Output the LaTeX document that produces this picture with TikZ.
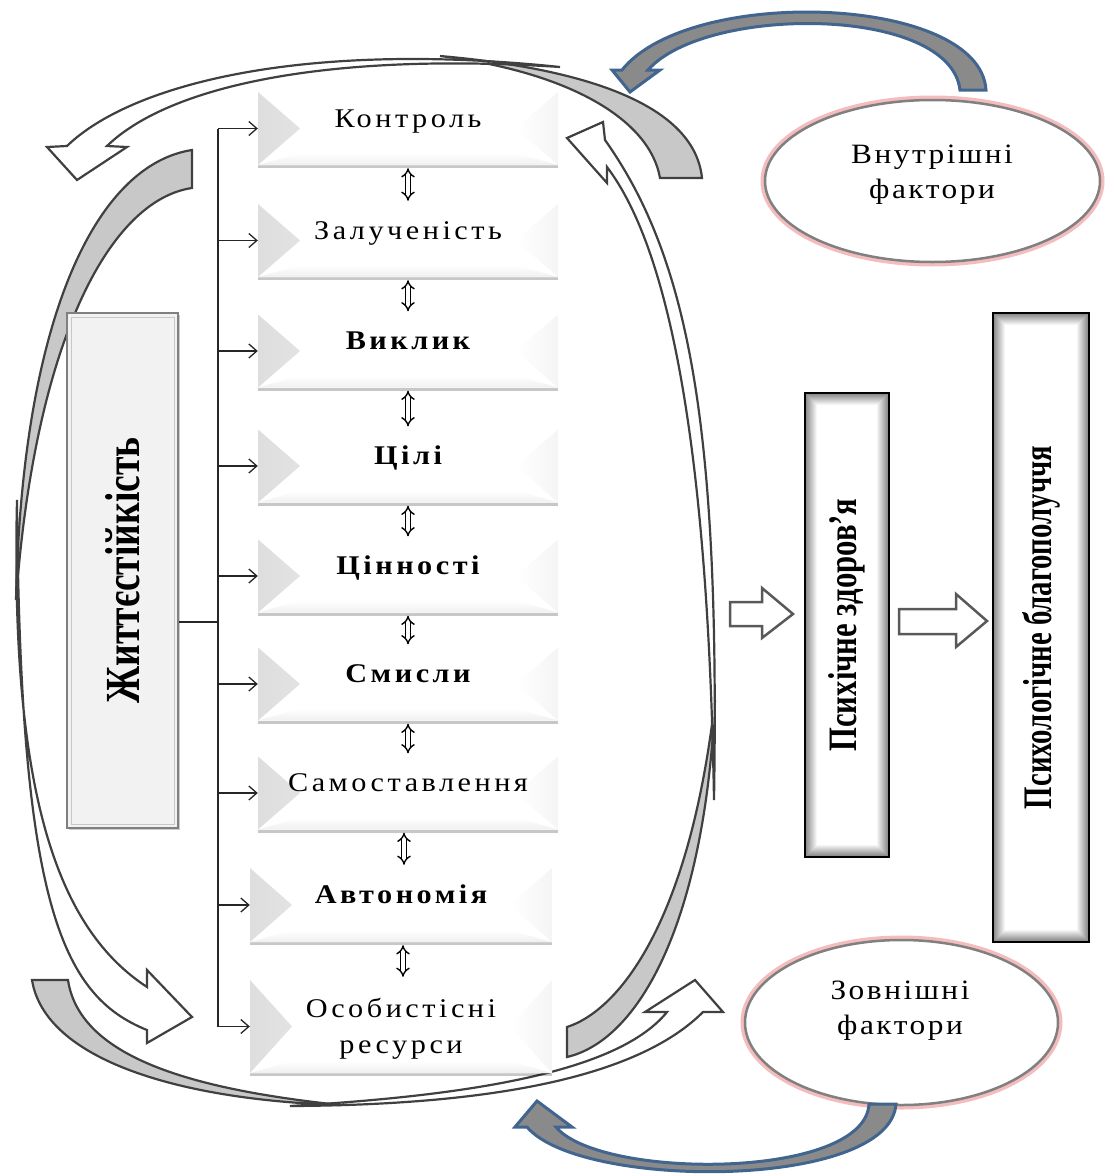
\documentclass[tikz,border=0pt]{standalone}
\usepackage{fontspec}
\setmainfont{Liberation Serif}
\newfontfamily\spc[LetterSpace=13, FakeStretch=1.12]{Liberation Serif}
\newfontfamily\spce[LetterSpace=9, FakeStretch=1.12]{Liberation Serif}
\usetikzlibrary{arrows.meta,shapes.geometric,shadows,calc}
\definecolor{dk}{HTML}{404040}
\definecolor{bandgray}{HTML}{C8C8C8}
\definecolor{bluel}{HTML}{41658F}
\definecolor{bluef}{HTML}{8A8A8A}
\definecolor{pinkglow}{HTML}{F4BCBC}
\tikzset{
  band/.style={draw=dk, line width=2.2pt, line join=miter},
  bandback/.style={band, fill=bandgray},
  bandfront/.style={band, fill=white},
  bluearr/.style={draw=bluel, line width=3pt, fill=bluef, line join=miter},
  cbox/.style={minimum width=300pt, minimum height=73pt, inner sep=0pt, fill=white,
    font=\spc\fontsize{27}{30}\selectfont, text height=16pt, text depth=19pt,
    drop shadow={shadow xshift=0pt, shadow yshift=-3pt, opacity=0.22, fill=black},
    path picture={
      \fill[left color=black!13, right color=white] (path picture bounding box.north west) -- ($(path picture bounding box.west)+(42pt,0pt)$) -- (path picture bounding box.south west) -- cycle;
      \fill[top color=white, bottom color=black!6] ($(path picture bounding box.south west)+(42pt,12pt)$) -- ($(path picture bounding box.south east)+(-42pt,12pt)$) -- (path picture bounding box.south east) -- (path picture bounding box.south west) -- cycle;
      \fill[left color=white, right color=black!4] ($(path picture bounding box.east)+(-42pt,0pt)$) -- (path picture bounding box.north east) -- (path picture bounding box.south east) -- cycle;
    }},
  cboxtext/.style={inner sep=0pt, align=center, font=\spc\fontsize{27}{36}\selectfont},
  conn/.style={draw=black!85, line width=1.3pt},
  dbl/.style={draw=black, line width=1.4pt, double=white, double distance=3.2pt,
    {Implies[]}-{Implies[]}, shorten >=3pt, shorten <=3pt},
  zhbox/.style={draw=black!50, line width=2pt, fill=black!5, inner sep=0pt,
    drop shadow={shadow xshift=2pt, shadow yshift=-2pt, opacity=0.2, fill=black}},
  psy/.style={draw=black, line width=2pt, fill=white, inner sep=0pt,
    path picture={
      \foreach \i in {1,...,14}{
        \pgfmathsetmacro\cc{max(0,52-4*\i)}
        \draw[black!\cc, line width=1.2pt] ([shift={(\i,\i)}]path picture bounding box.north west) rectangle ([shift={(-\i,-\i)}]path picture bounding box.south east);
      }
    }},
  blk/.style={draw=black!65, line width=2.5pt, fill=white, line join=miter},
  fact/.style={ellipse, draw=black!50, line width=2.5pt, fill=white, inner sep=0pt,
    preaction={draw=pinkglow, line width=9pt}},
  facttext/.style={inner sep=0pt, align=center, font=\spce\fontsize{28}{35}\selectfont}
}
\begin{document}
\begin{tikzpicture}[x=1pt,y=-1pt]
\useasboundingbox (0,0) rectangle (1105,1175);

% ---- big loop arrows: back (gray) pieces
\path[bandback] (660,178) -- (702,178) .. controls (695,110) and (600,70) .. (440,56) .. controls (570,72) and (650,120) .. (660,178) -- cycle;
\path[bandback] (192,150) -- (192,188) .. controls (110,200) and (35,340) .. (16,600) .. controls (22,320) and (95,165) .. (192,150) -- cycle;
\path[bandback] (32,980) -- (68,980) .. controls (80,1060) and (200,1090) .. (340,1105) .. controls (180,1100) and (45,1060) .. (32,980) -- cycle;
\path[bandback] (567,1027) -- (567,1057) .. controls (640,1040) and (705,920) .. (715,700) .. controls (690,920) and (620,1010) .. (567,1027) -- cycle;

% ---- big loop arrows: front (white) pieces
\path[bandfront] (560,67) .. controls (300,40) and (130,85) .. (67,146) -- (47,147) -- (77,180) -- (127,147) -- (107,146) .. controls (170,85) and (330,52) .. (560,67) -- cycle;
\path[bandfront] (17,500) .. controls (10,800) and (60,930) .. (147,987) -- (147,970) -- (192,1017) -- (147,1043) -- (147,1030) .. controls (60,995) and (20,900) .. (17,500) -- cycle;
\path[bandfront] (290,1106) .. controls (500,1105) and (640,1075) .. (703,1012) -- (723,1012) -- (695,980) -- (645,1012) -- (667,1012) .. controls (620,1070) and (480,1095) .. (290,1106) -- cycle;
\path[bandfront] (714,800) .. controls (720,430) and (690,260) .. (605,140) -- (603,122) -- (567,138) -- (607,183) -- (607,167) .. controls (670,250) and (708,450) .. (714,800) -- cycle;

% ---- left box
\node[zhbox, minimum width=111pt, minimum height=515pt] (zh) at (122.5,570.5)
  {\rotatebox{90}{\resizebox{266pt}{34pt}{\bfseries Життєстійкість}}};
\draw[black!22, line width=1pt] ([shift={(5,5)}]zh.north west) rectangle ([shift={(-5,-5)}]zh.south east);

% ---- central column
\node[cbox] (b1) at (408,128.5) {Контроль};
\node[cbox] (b2) at (408,240.5) {Залученість};
\node[cbox] (b3) at (408,351) {\bfseries Виклик};
\node[cbox] (b4) at (408,466) {\bfseries Цілі};
\node[cbox] (b5) at (408,576) {\bfseries Цінності};
\node[cbox] (b6) at (408,684) {\bfseries Смисли};
\node[cbox] (b7) at (408,793) {Самоставлення};
\node[cbox, minimum width=302pt, minimum height=74pt] (b8) at (401,905) {\bfseries Автономія};
\node[cbox, minimum width=302pt, minimum height=93pt] (b9) at (401,1026.5) {};
\node[cboxtext] (b9t) at (401,1029) {Особистісні\\ресурси};

\draw[dbl] (b1.south) -- (b1.south |- b2.north);
\draw[dbl] (b2.south) -- (b2.south |- b3.north);
\draw[dbl] (b3.south) -- (b3.south |- b4.north);
\draw[dbl] (b4.south) -- (b4.south |- b5.north);
\draw[dbl] (b5.south) -- (b5.south |- b6.north);
\draw[dbl] (b6.south) -- (b6.south |- b7.north);
\draw[dbl] ([xshift=-4pt]b7.south) -- ([xshift=-4pt]b7.south |- b8.north);
\draw[dbl] ([xshift=2pt]b8.south) -- ([xshift=2pt]b8.south |- b9.north);

% ---- bus connectors
\coordinate (bj) at (218,622);
\draw[conn] (zh.east |- bj) -- (bj);
\draw[conn] (b1.west -| bj) -- (b9.west -| bj);
\foreach \b in {b1,b2,b3,b4,b5,b6,b7,b8,b9}
  \draw[conn, -{Straight Barb[length=8pt,width=14pt]}] (\b.west -| bj) -- (\b.west);

% ---- right boxes
\node[psy, minimum width=84pt, minimum height=464pt] (pz) at (847,625)
  {\rotatebox{90}{\resizebox{253pt}{28pt}{\bfseries Психічне здоров’я}}};
\node[psy, minimum width=96pt, minimum height=629pt] (pb) at (1041,627.5)
  {\rotatebox{90}{\resizebox{363pt}{29pt}{\bfseries Психологічне благополуччя}}};

\draw[blk] (730,602) -- (762,602) -- (762,588) -- (793,614) -- (762,638) -- (762,626) -- (730,626) -- cycle;
\draw[blk] (899,609) -- (956,609) -- (956,594) -- (987,621) -- (956,647) -- (956,634) -- (899,634) -- cycle;

% ---- factor ellipses
\node[fact, minimum width=335pt, minimum height=162pt] (vf) at (932.5,181) {};
\node[facttext] (vft) at (932,175) {Внутрішні\\фактори};
\node[fact, minimum width=313pt, minimum height=165pt] (zf) at (901.5,1022.5) {};
\node[facttext] (zft) at (900,1011) {Зовнішні\\фактори};

% ---- blue arrows
\path[bluearr] (960,90) -- (986,90) .. controls (980,-5) and (690,-15) .. (622,70) -- (612,70) -- (630,92) -- (660,70) -- (648,70) .. controls (705,5) and (950,5) .. (960,90) -- cycle;
\path[bluearr] (869,1104) -- (896,1104) .. controls (890,1190) and (580,1190) .. (527,1127) -- (515,1127) -- (537,1101) -- (572,1127) -- (556,1127) .. controls (600,1180) and (865,1180) .. (869,1104) -- cycle;

\end{tikzpicture}
\end{document}
